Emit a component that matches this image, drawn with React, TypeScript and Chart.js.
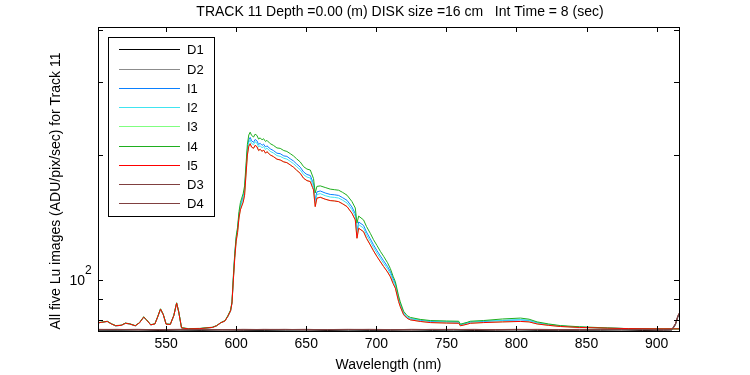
import React, { useEffect, useRef } from 'react';
import { Chart, registerables } from 'chart.js';

Chart.register(...registerables);

const titleText = 'TRACK 11 Depth =0.00 (m) DISK size =16 cm   Int Time = 8 (sec)';
const xTitle = 'Wavelength (nm)';
const yTitle = 'All five Lu images (ADU/pix/sec) for Track 11';

const xMin = 501.4;
const xMax = 916;
const yMin = 75.3;
const yMax = 407;
const xTicks = [550, 600, 650, 700, 750, 800, 850, 900];
const yTicks = [80, 90, 100, 200, 300, 400];
const yMajor = [100];

const wavelengths = [
  501.5, 504, 508, 511, 514, 518, 521, 524, 528, 531,
  534, 536, 539, 542, 544, 546, 548, 550, 553, 555.5,
  557.5, 559, 561, 566, 574, 583, 586, 589, 592, 594,
  596, 597, 598, 599, 600, 601, 602, 603, 604, 605,
  606, 607, 608, 609, 610, 611, 612.4, 613.5, 614.8, 616,
  617.1, 618.5, 619.5, 621, 621.9, 624.3, 626.6, 629.1, 631.4, 634,
  636.2, 638.6, 640.9, 643, 645.7, 648.1, 650.5, 652.9, 654.5, 655.2,
  656.4, 657.6, 660, 663.5, 667.1, 670, 673.1, 676, 679.1, 682.6,
  685, 686.2, 687.4, 690.9, 693, 695.7, 698, 700.5, 703, 705.2,
  708, 710, 712, 713.6, 715.9, 717.1, 719.5, 722, 724.3, 731.4,
  738.6, 750, 758.8, 760, 764.8, 767.1, 776.4, 790, 802.9, 809,
  814.8, 823, 831.4, 845, 864.8, 880, 900.5, 916,
];

const i1 = [
  78.8, 79.0, 79.4, 78.3, 77.5, 77.7, 78.6, 78.3, 77.5, 78.8,
  81.3, 80.1, 77.9, 78.3, 81.4, 85.0, 82.4, 78.2, 78.1, 82.0,
  87.9, 83.7, 76.6, 76.2, 76.3, 76.8, 77.5, 78.8, 79.6, 81.6,
  84.2, 87.9, 101, 115, 126, 132.5, 143.5, 150.5, 154.5, 158.5,
  165, 185, 206.5, 217.5, 220.5, 216.5, 214.5, 218, 216.5, 212,
  213.5, 211, 212.5, 209, 210.5, 207, 205, 202, 201.5, 199,
  198.5, 195.8, 193.5, 190.5, 187, 182, 179.5, 178.5, 172.8, 170.5,
  155.5, 163, 163.8, 162, 160.7, 160.4, 159.8, 157.8, 155.5, 149.9,
  144.4, 130.5, 137.9, 135.3, 130.4, 125.6, 121.5, 117.6, 114.1, 111.2,
  107.7, 104.8, 100.6, 97.8, 90.3, 87.4, 83.2, 81.3, 80.6, 79.9,
  79.4, 79.2, 79.1, 77.9, 78.7, 79.1, 79.4, 79.8, 80.1, 79.8,
  78.8, 78.0, 77.4, 76.9, 76.5, 76.3, 76.2, 76.2,
];

const i2 = [
  78.8, 79.0, 79.4, 78.3, 77.5, 77.7, 78.6, 78.3, 77.5, 78.8,
  81.3, 80.1, 77.9, 78.3, 81.4, 85.0, 82.4, 78.2, 78.1, 82.0,
  87.9, 83.7, 76.6, 76.2, 76.3, 76.8, 77.5, 78.8, 79.6, 81.6,
  84.2, 87.9, 100.6, 114.5, 125.5, 131.8, 142.9, 149.8, 153.5, 157.2,
  163.5, 182.8, 204, 214.5, 217.5, 213.3, 211.8, 215.2, 213.7, 209.2,
  210.6, 208.1, 209.8, 206.1, 207.8, 204.1, 202.2, 199.3, 198.5, 196.4,
  195.5, 193.1, 190.6, 187.7, 184.3, 179.3, 177, 176, 170.4, 168.1,
  153.4, 160.6, 161.4, 159.6, 158.4, 158.1, 157.5, 155.6, 153.2, 147.7,
  142.3, 128.6, 135.9, 133.3, 128.5, 123.8, 119.8, 116, 112.6, 109.7,
  106.4, 103.5, 99.5, 96.9, 89.7, 87, 83, 81.2, 80.6, 80.1,
  79.6, 79.4, 79.3, 78.1, 78.9, 79.3, 79.6, 79.9, 80.2, 79.9,
  78.9, 78.1, 77.4, 76.9, 76.5, 76.3, 76.2, 76.2,
];

const i3 = [
  78.8, 79.0, 79.4, 78.3, 77.5, 77.7, 78.6, 78.3, 77.5, 78.8,
  81.3, 80.1, 77.9, 78.3, 81.4, 85.0, 82.4, 78.2, 78.1, 82.0,
  87.9, 83.7, 76.6, 76.2, 76.3, 76.8, 77.5, 78.8, 79.6, 81.6,
  84.2, 87.9, 100, 113, 124, 130, 141, 147.5, 150.7, 154,
  160, 179, 200, 210, 213, 209, 207.6, 211, 209.5, 205,
  206.5, 204, 205.7, 202, 203.8, 200.1, 198.2, 195.4, 194.6, 192.5,
  191.7, 189.3, 186.9, 184, 180.7, 175.8, 173.5, 172.6, 167, 164.8,
  150.2, 157.4, 158.2, 156.5, 155.3, 155, 154.4, 152.5, 150.2, 144.8,
  139.5, 126.0, 133.2, 130.7, 126, 121.4, 117.5, 113.8, 110.5, 107.7,
  104.5, 101.8, 98, 95.5, 88.7, 86.2, 82.4, 80.8, 80.1, 79.4,
  78.9, 78.7, 78.6, 77.5, 78.2, 78.6, 78.9, 79.2, 79.4, 79.2,
  78.3, 77.7, 77.2, 76.8, 76.5, 76.3, 76.2, 76.2,
];

const i4 = [
  78.9, 79.1, 79.5, 78.4, 77.6, 77.8, 78.7, 78.4, 77.6, 78.9,
  81.5, 80.2, 78.0, 78.4, 81.6, 85.2, 82.6, 78.3, 78.2, 82.2,
  88.1, 83.9, 76.7, 76.3, 76.4, 76.9, 77.6, 78.9, 79.8, 81.9,
  84.6, 88.6, 102.5, 116, 127.5, 134, 146, 153.5, 157.5, 161.5,
  168.5, 189, 212, 223.5, 227, 223, 221, 224.5, 223, 218.5,
  220, 217.5, 219, 215.5, 217, 213, 211, 208, 207.5, 205,
  204, 201.5, 199, 196, 192.5, 187.5, 185, 184, 178, 175.5,
  162, 168, 168.5, 167, 165.5, 165, 164.5, 162.5, 160, 154.5,
  149, 137, 142.5, 139.5, 134.5, 129.5, 125, 121, 117, 114,
  110, 106.5, 102, 99, 91.5, 88.5, 84, 82, 81.2, 80.3,
  79.8, 79.6, 79.5, 78.2, 79.0, 79.5, 79.8, 80.5, 80.9, 80.4,
  79.2, 78.3, 77.6, 77.1, 76.6, 76.3, 76.2, 76.2,
];

const i5 = [
  78.8, 79.0, 79.4, 78.3, 77.5, 77.7, 78.6, 78.3, 77.5, 78.8,
  81.3, 80.1, 77.9, 78.3, 81.4, 85.0, 82.4, 78.2, 78.1, 82.0,
  87.9, 83.7, 76.6, 76.2, 76.3, 76.8, 77.5, 78.8, 79.6, 81.6,
  84.2, 87.9, 100, 113, 124, 130, 141, 147.5, 150.7, 154,
  160, 179, 200, 210, 213, 209, 207.6, 211, 209.5, 205,
  206.5, 204, 205.7, 202, 203.8, 200.1, 198.2, 195.4, 194.6, 192.5,
  191.7, 189.3, 186.9, 184, 180.7, 175.8, 173.5, 172.6, 167, 164.8,
  150.2, 157.4, 158.2, 156.5, 155.3, 155, 154.4, 152.5, 150.2, 144.8,
  139.5, 126.0, 133.2, 130.7, 126, 121.4, 117.5, 113.8, 110.5, 107.7,
  104.5, 101.8, 98, 95.5, 88.7, 86.2, 82.4, 80.8, 80.1, 79.4,
  78.9, 78.7, 78.6, 77.5, 78.2, 78.6, 78.9, 79.2, 79.4, 79.2,
  78.3, 77.7, 77.2, 76.8, 76.5, 76.3, 76.2, 76.2,
];

const darkWavelengths = [
  501.5, 515, 530, 545, 560, 575, 590, 605, 620, 635,
  650, 665, 680, 695, 710, 725, 740, 755, 770, 785,
  800, 815, 830, 845, 860, 875, 890, 905, 911, 913.5,
  915, 916,
];

const d1 = [
  75.6, 75.5, 75.7, 75.5, 75.6, 75.5, 75.7, 75.6, 75.5, 75.6,
  75.7, 75.5, 75.6, 75.5, 75.6, 75.7, 75.5, 75.6, 75.5, 75.6,
  75.7, 75.5, 75.6, 75.5, 75.6, 75.7, 75.5, 75.6, 75.7, 78.0,
  81.0, 82.6,
];
const d2 = [
  75.8, 75.7, 75.8, 75.9, 75.7, 75.8, 75.7, 75.9, 75.8, 75.7,
  75.8, 75.9, 75.7, 75.8, 75.9, 75.7, 75.8, 75.7, 75.9, 75.8,
  75.7, 75.8, 75.9, 75.7, 75.8, 75.7, 75.9, 75.8, 75.9, 78.3,
  81.3, 82.9,
];
const d3 = [
  75.9, 76.0, 75.8, 75.9, 76.0, 75.9, 75.8, 76.0, 75.9, 76.0,
  75.8, 75.9, 76.0, 75.9, 75.8, 76.0, 75.9, 76.0, 75.8, 75.9,
  76.0, 75.9, 75.8, 76.0, 75.9, 76.0, 75.8, 75.9, 76.0, 78.5,
  81.6, 83.1,
];
const d4 = [
  76.0, 75.9, 76.0, 75.8, 75.9, 76.0, 75.9, 75.8, 76.0, 75.9,
  76.0, 75.8, 75.9, 76.0, 75.9, 75.8, 76.0, 75.9, 76.0, 75.8,
  75.9, 76.0, 75.9, 75.8, 76.0, 75.9, 76.0, 75.8, 75.9, 78.4,
  81.4, 83.0,
];

const seriesLabels = ['D1', 'D2', 'I1', 'I2', 'I3', 'I4', 'I5', 'D3', 'D4'];
const seriesColors = ['#000000', '#8c8c8c', '#0a80ff', '#40e4f0', '#80ff80', '#1fae1f', '#ff0000', '#804040', '#804040'];
const seriesValues = [d1, d2, i1, i2, i3, i4, i5, d3, d4];
const seriesXs = [darkWavelengths, darkWavelengths, wavelengths, wavelengths, wavelengths, wavelengths, wavelengths, darkWavelengths, darkWavelengths];

const FONT = '"Liberation Sans", Arial, sans-serif';

const framePlugin = {
  id: 'matlabFrame',
  afterDraw(chart: any) {
    const ctx = chart.ctx as CanvasRenderingContext2D;
    const { left, right, top, bottom } = chart.chartArea;
    const xs = chart.scales.x;
    const ys = chart.scales.y;
    ctx.save();
    ctx.strokeStyle = '#000';
    ctx.lineWidth = 1;
    ctx.strokeRect(left + 0.5, top + 0.5, right - left, bottom - top);
    const tl = 5;
    ctx.beginPath();
    xTicks.forEach((v) => {
      const px = Math.round(xs.getPixelForValue(v)) + 0.5;
      ctx.moveTo(px, bottom);
      ctx.lineTo(px, bottom - tl);
      ctx.moveTo(px, top);
      ctx.lineTo(px, top + tl);
    });
    yTicks.forEach((v) => {
      const py = Math.round(ys.getPixelForValue(v)) + 0.5;
      ctx.moveTo(left, py);
      ctx.lineTo(left + tl, py);
      ctx.moveTo(right, py);
      ctx.lineTo(right - tl, py);
    });
    ctx.stroke();

    // y major labels 10^n
    ctx.fillStyle = '#000';
    yMajor.forEach((v) => {
      const py = ys.getPixelForValue(v);
      const exp = String(Math.round(Math.log10(v)));
      ctx.font = `14px ${FONT}`;
      ctx.textAlign = 'right';
      ctx.textBaseline = 'middle';
      ctx.fillText('10', left - 13, py + 1);
      ctx.font = `12px ${FONT}`;
      ctx.textAlign = 'left';
      ctx.fillText(exp, left - 13, py - 9);
    });

    // titles
    ctx.font = `14px ${FONT}`;
    ctx.textAlign = 'center';
    ctx.textBaseline = 'middle';
    ctx.fillText(titleText, 400, 12);
    ctx.fillText(xTitle, (left + right) / 2, 365);
    ctx.save();
    ctx.translate(56, 191);
    ctx.rotate(-Math.PI / 2);
    ctx.fillText(yTitle, 0, 0);
    ctx.restore();

    // legend
    const lx = 108.5, ly = 37.5, lw = 106, lh = 179;
    ctx.fillStyle = '#fff';
    ctx.fillRect(lx, ly, lw, lh);
    ctx.strokeStyle = '#000';
    ctx.strokeRect(lx, ly, lw, lh);
    ctx.font = `13px ${FONT}`;
    ctx.textAlign = 'left';
    ctx.textBaseline = 'middle';
    seriesLabels.forEach((label, k) => {
      const y = Math.round(49.3 + k * 19.25) + 0.5;
      ctx.strokeStyle = seriesColors[k];
      ctx.lineWidth = 1;
      ctx.beginPath();
      ctx.moveTo(119, y);
      ctx.lineTo(180, y);
      ctx.stroke();
      ctx.fillStyle = '#000';
      ctx.fillText(label, 187, y + 0.5);
    });
    ctx.restore();
  },
};

export default function App() {
  const canvasRef = useRef<HTMLCanvasElement | null>(null);
  useEffect(() => {
    const canvas = canvasRef.current;
    if (!canvas) return;
    const datasets = seriesLabels.map((label, k) => ({
      label,
      data: seriesXs[k].map((x, j) => ({ x, y: seriesValues[k][j] })),
      borderColor: seriesColors[k],
      backgroundColor: seriesColors[k],
      borderWidth: 1,
      pointRadius: 0,
      fill: false,
      tension: 0,
      order: seriesLabels.length - k,
    }));
    const chart = new Chart(canvas, {
      type: 'line',
      data: { datasets },
      options: {
        responsive: false,
        animation: false,
        devicePixelRatio: 1,
        layout: { padding: { left: 0, top: 27, right: 71, bottom: 0 } },
        plugins: { legend: { display: false }, tooltip: { enabled: false }, title: { display: false } },
        scales: {
          x: {
            type: 'linear',
            min: xMin,
            max: xMax,
            grid: { display: false, drawTicks: false },
            border: { display: false },
            afterBuildTicks: (scale: any) => {
              scale.ticks = xTicks.map((v) => ({ value: v }));
            },
            afterFit: (scale: any) => {
              scale.height = 44;
            },
            ticks: {
              color: '#000',
              padding: 5,
              maxRotation: 0,
              autoSkip: false,
              font: { family: FONT, size: 14 },
              callback: (v: any) => String(v),
            },
          },
          y: {
            type: 'logarithmic',
            min: yMin,
            max: yMax,
            grid: { display: false, drawTicks: false },
            border: { display: false },
            afterBuildTicks: (scale: any) => {
              scale.ticks = yTicks.map((v) => ({ value: v, major: yMajor.includes(v) }));
            },
            afterFit: (scale: any) => {
              scale.width = 98;
            },
            ticks: { display: false },
          },
        },
      },
      plugins: [framePlugin],
    });
    return () => chart.destroy();
  }, []);
  return (
    <div style={{ position: 'absolute', left: 0, top: 0, width: 750, height: 375, background: '#fff' }}>
      <canvas ref={canvasRef} width={750} height={375} />
    </div>
  );
}
